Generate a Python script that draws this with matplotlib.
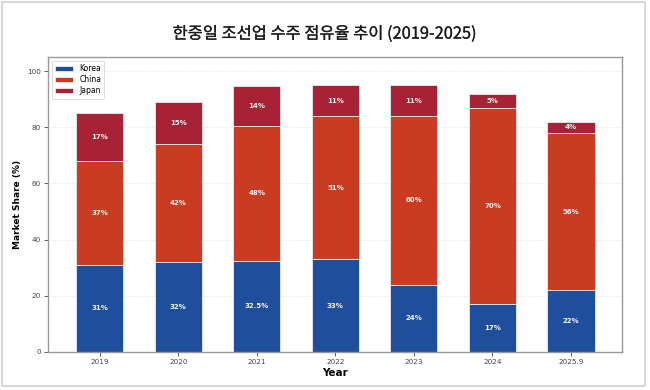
import matplotlib
matplotlib.use("Agg")
import matplotlib.pyplot as plt
import matplotlib.patheffects as pe
import numpy as np
from matplotlib.patches import Rectangle

years = ["2019", "2020", "2021", "2022", "2023", "2024", "2025.9"]
korea = [31, 32, 32.5, 33, 24, 17, 22]
china = [37, 42, 48, 51, 60, 70, 56]
japan = [17, 15, 14, 11, 11, 5, 4]
korea_labels = ["31%", "32%", "32.5%", "33%", "24%", "17%", "22%"]
china_labels = ["37%", "42%", "48%", "51%", "60%", "70%", "56%"]
japan_labels = ["17%", "15%", "14%", "11%", "11%", "5%", "4%"]

plt.rcParams['font.family'] = ['DejaVu Sans']

fig = plt.figure(figsize=(6.5, 3.9), dpi=100)
ax = fig.add_axes([48/650, 1-352/390, (622-48)/650, (352-57)/390])

fig.patches.append(Rectangle((2/650, 4/390), 643/650, 384/390, transform=fig.transFigure,
                             fill=False, edgecolor='#d0d0d0', linewidth=1.2))

x = np.arange(len(years))
w = 0.6
c_k, c_c, c_j = '#1f4e9c', '#c93c22', '#a82235'
k = np.array(korea); c = np.array(china); j = np.array(japan)
ax.bar(x, k, w, color=c_k, edgecolor='#e8ecf5', linewidth=0.6, label='Korea', zorder=2)
ax.bar(x, c, w, bottom=k, color=c_c, edgecolor='#e8ecf5', linewidth=0.6, label='China', zorder=2)
ax.bar(x, j, w, bottom=k + c, color=c_j, edgecolor='#e8ecf5', linewidth=0.6, label='Japan', zorder=2)

lab_kw = dict(ha='center', va='center', color='#f4f4f4', fontsize=5, fontweight='bold', zorder=3)
for i in range(len(years)):
    ax.text(x[i], k[i] / 2, korea_labels[i], **lab_kw)
    ax.text(x[i], k[i] + c[i] / 2, china_labels[i], **lab_kw)
    ax.text(x[i], k[i] + c[i] + j[i] / 2, japan_labels[i], **lab_kw)

ax.set_ylim(0, 105)
ax.set_xlim(-0.66, 6.65)
ax.set_xticks(x)
ax.set_xticklabels(years)
ax.set_yticks([0, 20, 40, 60, 80, 100])
ax.tick_params(labelsize=5.2, colors='#444444', length=3, width=0.6, pad=2)
ax.yaxis.grid(True, linestyle=':', color='#dddddd', linewidth=0.6, zorder=0)
ax.set_axisbelow(True)
for s in ax.spines.values():
    s.set_color('#999999')
    s.set_linewidth(1.0)

ax.set_xlabel('Year', fontsize=7.5, fontweight='bold', labelpad=2)
ax.set_ylabel('Market Share (%)', fontsize=6.5, fontweight='bold', labelpad=4)

leg = ax.legend(loc='upper left', fontsize=5.5, frameon=True, handlelength=2.4,
                borderpad=0.4, labelspacing=0.3)
leg.get_frame().set_edgecolor('#cccccc')
leg.get_frame().set_linewidth(0.6)

t = fig.text(0.5, 1 - 34/390, '한중일 조선업 수주 점유율 추이 (2019-2025)', ha='center', va='center',
             fontsize=11.8, fontweight='normal', family=['Noto Sans CJK KR', 'DejaVu Sans'],
             color='#1a1a1a')
t.set_path_effects([pe.withStroke(linewidth=0.15, foreground='#1a1a1a')])

fig.savefig('out.png', dpi=100)
